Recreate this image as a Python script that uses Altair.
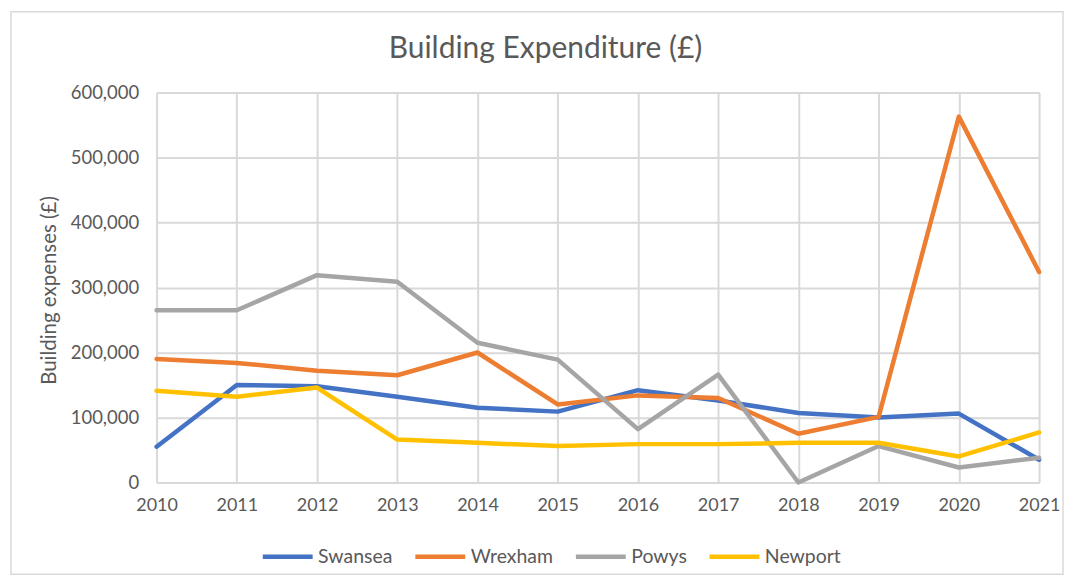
import altair as alt
import pandas as pd

years = list(range(2010, 2022))
swansea = [55000, 150000, 148000, 132000, 115000, 109000, 142000, 126000, 107000, 100000, 106000, 35000]
wrexham = [190000, 184000, 172000, 165000, 200000, 120000, 134000, 130000, 75000, 101000, 563000, 324000]
powys = [265000, 265000, 319000, 309000, 215000, 189000, 82000, 166000, 0, 56000, 23000, 38000]
newport = [141000, 132000, 146000, 66000, 61000, 56000, 59000, 59000, 61000, 61000, 40000, 77000]

series_names = ["Swansea", "Wrexham", "Powys", "Newport"]
series_colors = ["#4472C4", "#ED7D31", "#A5A5A5", "#FFC000"]
title_text = "Building Expenditure (£)"

rows = []
for name, vals in zip(series_names, [swansea, wrexham, powys, newport]):
    for y, v in zip(years, vals):
        rows.append({"Year": y, "Value": v, "Series": name})
df = pd.DataFrame(rows)

FONT = "Lato"
GREY = "#595959"

W, H = 885, 391
PL, PT = 149, 84

frame = alt.Chart(pd.DataFrame({"a": [0]})).mark_rect(
    filled=False, stroke="#D9D9D9", strokeWidth=1.5, clip=False
).encode(
    x=alt.value(-PL + 3), x2=alt.value(W + 24),
    y=alt.value(-PT + 3), y2=alt.value(H + 92),
)

title = alt.Chart(pd.DataFrame({"t": [title_text]})).mark_text(
    font=FONT, fontSize=30, color=GREY, align="center", baseline="alphabetic",
    clip=False
).encode(text="t:N", x=alt.value(390), y=alt.value(-35))

lines = alt.Chart(df).mark_line(strokeWidth=4.5, strokeCap="round", strokeJoin="round").encode(
    x=alt.X("Year:Q",
            scale=alt.Scale(domain=[2010, 2021], nice=False, zero=False),
            axis=alt.Axis(values=years, format="d", title=None, grid=True,
                          gridColor="#D9D9D9", gridWidth=2, domain=False,
                          ticks=False, labelPadding=14, labelFontSize=18,
                          labelColor=GREY, labelFont=FONT, labelFlush=False)),
    y=alt.Y("Value:Q",
            scale=alt.Scale(domain=[0, 600000], nice=False),
            axis=alt.Axis(values=[0, 100000, 200000, 300000, 400000, 500000, 600000],
                          format=",.0f", title="Building expenses (£)",
                          grid=True, gridColor="#D9D9D9", gridWidth=2,
                          domain=False, ticks=False, labelPadding=18,
                          labelFontSize=18.5, labelColor=GREY, labelFont=FONT,
                          titleFontSize=20.5, titleColor=GREY, titleFont=FONT,
                          titleFontWeight="normal", titleX=-107, titleY=198,
                          titleAngle=270, titleBaseline="middle",
                          titleAlign="center")),
    color=alt.Color("Series:N",
                    scale=alt.Scale(domain=series_names, range=series_colors),
                    sort=series_names,
                    legend=alt.Legend(orient="none", direction="horizontal",
                                      legendX=104, legendY=438, title=None,
                                      symbolType="stroke", symbolSize=2500,
                                      symbolStrokeWidth=4.5, labelFontSize=19.5,
                                      labelColor=GREY, labelFont=FONT,
                                      labelOffset=3, columnPadding=13)),
)

chart = alt.layer(frame, title, lines).properties(
    width=W, height=H,
    autosize=alt.AutoSizeParams(type="none"),
    padding={"left": PL, "top": PT, "right": 30, "bottom": 96},
).configure_view(stroke=None).configure(background="white")

chart.save("out.html", embed_options={"renderer": "svg", "actions": False})
